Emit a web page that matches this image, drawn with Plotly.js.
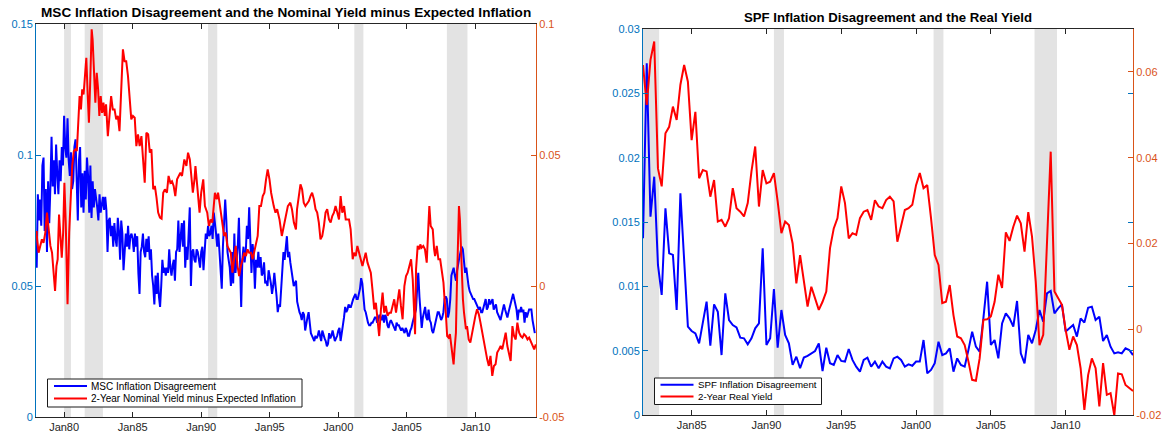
<!DOCTYPE html>
<html>
<head>
<meta charset="utf-8">
<script src="https://cdn.plot.ly/plotly-3.0.1.min.js"></script>
<style>
html,body{margin:0;padding:0;background:#fff;}
#chart{width:1162px;height:432px;}
</style>
</head>
<body>
<div id="chart"></div>
<script>
// ---------- Left panel: MSC inflation disagreement (monthly, from Jan 1978) ----------
const mscStartYear = 1978;
const mscDisagreement = [
.057,.085,.075,.083,.073,.096,.099,.071,.087,.063,
.090,.074,.088,.107,.088,.098,.085,.104,.093,.085,
.098,.090,.103,.096,.115,.103,.099,.114,.098,.092,
.101,.087,.090,.103,.106,.094,.075,.098,.103,.080,
.093,.078,.094,.083,.099,.092,.078,.096,.076,.090,
.080,.087,.084,.080,.075,.085,.078,.082,.084,.079,
.084,.079,.063,.075,.076,.069,.073,.065,.074,.068,
.065,.076,.071,.060,.075,.070,.056,.063,.070,.065,
.073,.064,.069,.070,.068,.063,.070,.065,.069,.055,
.047,.063,.065,.070,.063,.061,.068,.063,.069,.060,
.064,.054,.050,.043,.054,.047,.055,.046,.042,.050,
.060,.055,.057,
.054,.057,.055,.064,.057,.054,.058,
.060,.052,.063,.064,.075,.063,.069,
.074,.065,.075,.057,.065,.060,.068,
.080,.050,.063,.064,.060,.059,.064,
.063,.060,.057,.063,.065,.056,.063,
.070,.068,.073,.069,.070,.073,.068,
.078,.075,.070,.065,.070,.063,.055,
.049,.065,.073,.083,.075,.063,.060,
.057,.050,.063,.051,.070,.055,.061,
.065,.076,.063,.042,.060,.065,.059,
.063,.073,.068,.080,.063,.055,.066,
.061,.049,.060,.057,.063,.057,.061,
.054,.055,.059,.051,.052,.050,.056,
.054,.051,.047,.050,.055,.051,.046,
.040,.043,.042,.050,.059,.063,.060,
.065,.069,.061,.063,.059,.056,.053,
.050,.051,.052,
.044,.041,.040,.039,.037,.040,.039,.033,.036,.038,
.040,.036,.032,.031,.030,.029,.031,.030,.031,.033,
.031,.029,.033,.031,.030,.029,.027,.028,.032,.030,
.031,.033,.031,.029,.030,.031,.033,.034,.029,.033,
.035,.038,.042,.040,.041,.043,.042,.042,.044,.045,
.046,.047,.045,.045,.047,.049,.053,.051,.046,.041,
.040,.037,.036,.035,.035,.036,.036,.037,.038,.038,
.036,.037,.039,.038,.037,.039,.036,.039,.038,.035,
.034,.036,.037,.036,.035,.034,.033,.036,.035,.035,
.034,.033,.034,.033,.032,.034,.033,.031,.031,.033,
.034,.036,.038,.039,.041,.049,.055,.046,
.040,.034,.038,.040,.042,.038,.037,.041,.037,.036,
.033,.032,.034,.035,.037,.040,.040,.038,.037,.038,
.040,.045,.046,.045,.038,.040,.045,.054,.056,.057,
.054,.052,.056,.059,.061,.063,.065,.064,.059,.055,
.057,.053,.050,.048,.047,.046,.045,.045,.044,.043,
.042,.041,.042,.040,.040,.042,.044,.045,.041,.042,
.045,.043,.044,.045,.041,.042,.043,.040,.039,.038,
.037,.039,.041,.043,.041,.039,.038,.040,.042,.043,
.045,.047,.045,.043,.041,.037,.041,.040,.042,.040,
.041,.036,.040,.038,.040,.041,.041,.041,.037,.034,
.032
];

// ---------- Left panel: 2-year nominal yield minus expected inflation ----------
const nomDates = [
1978.00,1978.01,1978.14,1978.26,1978.38,1978.50,1978.63,1978.75,1978.87,1979.00,
1979.12,1979.24,1979.34,1979.44,1979.53,1979.63,1979.73,1979.83,1979.93,1980.02,
1980.12,1980.25,1980.37,1980.47,1980.59,1980.71,1980.83,1980.93,1981.03,1981.13,
1981.23,1981.32,1981.42,1981.52,1981.62,1981.72,1981.81,1981.91,1982.01,1982.08,
1982.18,1982.28,1982.38,1982.48,1982.57,1982.67,1982.77,1982.87,1982.97,1983.06,
1983.19,1983.31,1983.43,1983.55,1983.68,1983.80,1983.92,1984.04,1984.17,1984.29,
1984.41,1984.53,1984.66,1984.78,1984.90,1985.02,1985.15,1985.27,1985.39,1985.51,
1985.64,1985.76,1985.88,1986.00,1986.13,1986.25,1986.37,1986.50,1986.62,1986.74,
1986.86,1986.99,1987.11,1987.23,1987.35,
1987.50,1987.62,1987.75,1987.87,1987.99,1988.11,1988.24,1988.36,1988.48,1988.60,
1988.77,1988.92,1989.04,1989.17,1989.26,1989.39,1989.51,1989.58,1989.71,1989.88,
1990.00,1990.15,1990.27,1990.44,1990.56,1990.69,1990.81,1991.00,1991.13,1991.23,
1991.37,1991.50,1991.67,1991.79,1991.91,1992.03,1992.16,1992.28,1992.40,1992.52,
1992.65,1992.77,1992.89,1993.01,1993.14,1993.26,1993.38,1993.50,1993.63,1993.75,
1993.92,1994.12,1994.24,1994.36,1994.49,1994.61,1994.73,1994.85,1994.98,1995.10,
1995.29,1995.42,1995.54,1995.71,1995.88,1996.03,1996.20,1996.32,1996.50,1996.62,
1996.76,1996.91,
1996.99,1997.11,1997.24,1997.36,1997.48,1997.60,1997.73,1997.85,1997.97,1998.09,
1998.22,1998.34,1998.46,1998.58,1998.70,1998.83,1998.95,1999.07,1999.19,1999.32,
1999.44,1999.56,1999.68,1999.80,1999.93,2000.05,2000.17,2000.29,2000.42,2000.54,
2000.66,2000.78,2000.90,2000.98,2001.05,2001.15,2001.27,2001.39,2001.52,2001.64,
2001.76,2001.88,2002.00,2002.13,2002.25,2002.37,2002.49,2002.62,2002.74,2002.86,
2002.98,2003.11,2003.23,2003.35,2003.47,2003.59,2003.72,2003.84,2003.96,2004.08,
2004.21,2004.33,2004.45,2004.57,2004.69,2004.82,2004.94,2005.06,2005.18,2005.31,
2005.43,2005.50,2005.60,2005.67,2005.79,2005.92,
2005.98,2006.08,2006.20,2006.32,2006.45,2006.57,2006.64,2006.74,2006.81,2006.89,
2006.99,2007.06,2007.18,2007.30,2007.43,2007.55,2007.67,2007.75,2007.84,2007.94,
2008.04,2008.14,2008.24,2008.33,2008.41,2008.48,2008.58,2008.65,2008.73,2008.80,
2008.87,2008.95,2009.02,2009.09,2009.17,2009.24,2009.31,2009.39,2009.51,2009.63,
2009.75,2009.88,2010.00,2010.12,2010.25,2010.37,2010.49,2010.61,2010.74,2010.86,
2010.98,2011.10,2011.23,2011.35,2011.47,2011.59,2011.72,2011.84,2011.96,2012.08,
2012.21,2012.33,2012.45,2012.57,2012.70,2012.82,2012.94,2013.06,2013.19,2013.31,
2013.43,2013.55,2013.68,2013.80,2013.92,2014.04,2014.17,2014.29,2014.41
];
const nomYieldMinusExpInfl = [
.0210,.0190,.0127,.0153,.0178,.0165,.0204,.0280,.0229,.0153,
.0127,.0051,-.0019,.0076,.0102,.0273,.0204,.0108,.0204,.0394,
.0242,-.0070,.0204,.0343,.0458,.0515,.0522,.0515,.0611,.0725,
.0674,.0751,.0731,.0801,.0871,.0731,.0623,.0788,.0980,.0941,
.0827,.0700,.0814,.0751,.0649,.0725,.0661,.0700,.0649,.0693,
.0572,.0636,.0725,.0674,.0674,.0636,.0649,.0591,.0763,.0903,
.0858,.0858,.0801,.0712,.0636,.0649,.0642,.0534,.0579,.0534,
.0572,.0483,.0394,.0585,.0579,.0509,.0522,.0369,.0382,.0337,
.0280,.0261,.0257,.0356,.0369,
.0356,.0420,.0394,.0400,.0382,.0343,.0407,.0420,.0432,.0420,
.0483,.0458,.0509,.0483,.0432,.0356,.0407,.0458,.0382,.0280,
.0356,.0407,.0305,.0280,.0229,.0254,.0242,.0356,.0331,.0356,
.0305,.0254,.0191,.0204,.0153,.0140,.0127,.0051,.0102,.0153,
.0076,.0038,.0076,.0102,.0127,.0114,.0140,.0127,.0127,.0102,
.0140,.0191,.0305,.0305,.0343,.0356,.0407,.0445,.0407,.0356,
.0305,.0280,.0293,.0254,.0191,.0229,.0280,.0305,.0318,.0293,
.0242,.0216,
.0293,.0343,.0388,.0369,.0318,.0305,.0318,.0324,.0343,.0356,
.0331,.0293,.0280,.0242,.0178,.0191,.0229,.0280,.0293,.0254,
.0242,.0267,.0280,.0305,.0280,.0254,.0343,.0280,.0305,.0254,
.0254,.0254,.0216,.0127,.0102,.0127,.0114,.0153,.0127,.0102,
.0076,.0102,.0127,.0089,.0070,.0051,-.0013,-.0089,-.0064,-.0127,
-.0191,-.0089,-.0025,-.0102,-.0076,-.0114,-.0102,-.0102,-.0076,-.0051,
-.0102,-.0064,-.0013,-.0076,-.0127,.0000,.0038,.0051,.0076,.0102,
.0025,-.0064,-.0184,.0064,.0153,.0140,
.0159,.0146,.0153,.0140,.0089,.0229,.0305,.0229,.0223,.0216,
.0140,.0114,.0153,.0102,.0102,.0051,.0013,-.0051,-.0102,-.0191,
-.0197,-.0184,-.0229,-.0267,-.0299,-.0242,-.0178,.0000,.0229,.0305,
.0254,.0127,.0025,-.0051,-.0102,-.0127,-.0165,-.0153,-.0204,-.0216,
-.0178,-.0140,-.0114,-.0089,-.0108,-.0140,-.0178,-.0204,-.0254,-.0280,
-.0305,-.0267,-.0343,-.0305,-.0299,-.0254,-.0242,-.0229,-.0242,-.0204,
-.0178,-.0229,-.0254,-.0286,-.0153,-.0191,-.0204,-.0140,-.0178,-.0191,
-.0197,-.0184,-.0191,-.0204,-.0197,-.0210,-.0223,-.0242,-.0223
];

// ---------- Right panel: SPF inflation disagreement & 2-year real yield (quarterly, from 1981Q4) ----------
const spfStartYear = 1981.75;
const spfDisagreement = [
.01373,.02733,.01541,.01852,.01166,.00933,.01606,.01256,.01244,.00816,
.01723,.01166,.00687,.00653,.00635,.00557,.00725,.00881,.00539,.00860,
.00803,.00466,.00946,.00738,.00699,.00681,.00601,.00596,.00549,.00596,
.00674,.00712,.01295,.00544,.00596,.00979,.00523,.00816,.00622,.00557,
.00389,.00453,.00363,.00446,.00459,.00479,.00497,.00557,.00342,.00523,
.00402,.00389,.00466,.00420,.00415,.00513,.00428,.00376,.00337,.00428,
.00446,.00376,.00415,.00363,.00415,.00376,
.00363,.00440,.00453,.00428,.00376,.00394,.00383,.00415,.00415,.00583,
.00324,.00350,.00402,.00570,.00466,.00479,.00518,.00337,.00440,.00389,
.00376,.00505,.00648,.00531,.00492,.00751,.01036,.00544,.00583,.00440,
.00712,.00790,.00751,.00687,.00886,.00479,.00402,.00622,.00557,.00661,
.00816,.00725,.00946,.00964,.00790,.00829,.00860,.00648,.00674,.00699,
.00609,.00751,.00718,.00834,.00842,.00738,.00764,.00575,.00622,.00531,
.00479,.00487,.00479,.00518,.00505,.00466
];
const realYield = [
.0616,.0523,.0628,.0671,.0375,.0333,.0457,.0472,.0519,.0488,
.0570,.0616,.0577,.0441,.0507,.0352,.0371,.0368,.0309,.0348,
.0251,.0255,.0239,.0259,.0329,.0282,.0274,.0263,.0294,.0368,
.0426,.0286,.0371,.0340,.0344,.0364,.0298,.0224,.0251,.0243,
.0200,.0107,.0173,.0111,.0053,.0099,.0072,.0045,.0064,.0088,
.0189,.0235,.0259,.0333,.0294,.0212,.0224,.0220,.0259,.0274,
.0278,.0255,.0301,.0286,.0282,.0301,
.0309,.0298,.0204,.0243,.0278,.0282,.0290,.0336,.0364,.0329,
.0336,.0259,.0173,.0150,.0061,.0064,.0103,.0033,-.0017,-.0021,
-.0037,-.0075,-.0118,-.0120,-.0068,.0022,.0023,.0030,.0064,.0127,
.0096,.0226,.0206,.0239,.0265,.0247,.0181,.0273,.0216,.0111,
-.0037,-.0013,.0204,.0414,.0088,.0072,.0057,-.0002,-.0048,-.0017,
-.0037,-.0091,-.0188,-.0107,-.0068,-.0091,-.0180,-.0079,-.0153,-.0149,
-.0201,-.0103,-.0105,-.0130,-.0138,-.0144
];

// ---------- NBER recessions ----------
const recessionStart = [1980.0, 1981.5, 1990.5, 2001.17, 2007.92];
const recessionEnd   = [1980.5, 1982.83, 1991.17, 2001.83, 2009.42];

// ---------- Tick labels and legend text ----------
const leftTickYears = [1980,1985,1990,1995,2000,2005,2010];
const leftTickText  = ['Jan80','Jan85','Jan90','Jan95','Jan00','Jan05','Jan10'];
const rightTickYears = [1985,1990,1995,2000,2005,2010];
const rightTickText  = ['Jan85','Jan90','Jan95','Jan00','Jan05','Jan10'];
const mscTicks = [0,0.05,0.1,0.15], mscTickText = ['0','0.05','0.1','0.15'];
const nomTicks = [-0.05,0,0.05,0.1], nomTickText = ['-0.05','0','0.05','0.1'];
const spfTicks = [0,0.005,0.01,0.015,0.02,0.025,0.03], spfTickText = ['0','0.005','0.01','0.015','0.02','0.025','0.03'];
const ryTicks = [-0.02,0,0.02,0.04,0.06], ryTickText = ['-0.02','0','0.02','0.04','0.06'];
const leftSeriesNames  = ['MSC Inflation Disagreement', '2-Year Nominal Yield minus Expected Inflation'];
const rightSeriesNames = ['SPF Inflation Disagreement', '2-Year Real Yield'];
const leftTitle  = 'MSC Inflation Disagreement and the Nominal Yield minus Expected Inflation';
const rightTitle = 'SPF Inflation Disagreement and the Real Yield';

const mscDates = mscDisagreement.map((_, i) => mscStartYear + i / 12);
const spfDates = spfDisagreement.map((_, i) => spfStartYear + i / 4);

const W = 1162, H = 432;
const BLUEAX = '#0072BD', ORANGEAX = '#D95319', DARK = '#262626';
const LINEBLUE = '#0000FF', LINERED = '#FF0000';
const FONT = 'Liberation Sans, Arial, Helvetica, sans-serif';

const traces = [
  {x: mscDates, y: mscDisagreement, xaxis:'x', yaxis:'y', type:'scatter', mode:'lines',
   name: leftSeriesNames[0], line:{color:LINEBLUE, width:2}},
  {x: nomDates, y: nomYieldMinusExpInfl, xaxis:'x', yaxis:'y2', type:'scatter', mode:'lines',
   name: leftSeriesNames[1], line:{color:LINERED, width:2}},
  {x: spfDates, y: spfDisagreement, xaxis:'x2', yaxis:'y3', type:'scatter', mode:'lines',
   name: rightSeriesNames[0], line:{color:LINEBLUE, width:2}},
  {x: spfDates, y: realYield, xaxis:'x2', yaxis:'y4', type:'scatter', mode:'lines',
   name: rightSeriesNames[1], line:{color:LINERED, width:2}}
];

const shapes = [];
recessionStart.forEach((s, i) => {
  shapes.push({type:'rect', xref:'x', yref:'y domain', x0:s, x1:recessionEnd[i], y0:0, y1:1,
    fillcolor:'#e3e3e3', line:{width:0}, layer:'below'});
  shapes.push({type:'rect', xref:'x2', yref:'y3 domain', x0:s, x1:recessionEnd[i], y0:0, y1:1,
    fillcolor:'#e3e3e3', line:{width:0}, layer:'below'});
});

const annotations = [
  {text:'<b>' + leftTitle + '</b>', xref:'paper', yref:'paper', x:(36+536)/2/W, y:1-13/H,
   xanchor:'center', yanchor:'middle', showarrow:false, font:{family:FONT, size:13.6, color:'#000'}},
  {text:'<b>' + rightTitle + '</b>', xref:'paper', yref:'paper', x:(643+1133)/2/W, y:1-18/H,
   xanchor:'center', yanchor:'middle', showarrow:false, font:{family:FONT, size:13.2, color:'#000'}}
];

// Legend boxes (drawn in paper space, styled like the original figure's legends)
function addLegend(box, names, colors, fsize) {
  const px = v => v / W, py = v => 1 - v / H;
  shapes.push({type:'rect', xref:'paper', yref:'paper', x0:px(box.x0), x1:px(box.x1), y0:py(box.y1), y1:py(box.y0),
    fillcolor:'#ffffff', line:{color:'#1a1a1a', width:1}, layer:'above'});
  names.forEach((n, i) => {
    const yy = box.rows[i];
    shapes.push({type:'line', xref:'paper', yref:'paper', x0:px(box.l0), x1:px(box.l1), y0:py(yy), y1:py(yy),
      line:{color:colors[i], width:2}, layer:'above'});
    annotations.push({text:n, xref:'paper', yref:'paper', x:px(box.tx), y:py(yy), xanchor:'left', yanchor:'middle',
      showarrow:false, font:{family:FONT, size:fsize, color:'#000'}});
  });
}
addLegend({x0:47.5, x1:302, y0:379, y1:407, l0:54, l1:87, tx:89, rows:[386, 398.5]}, leftSeriesNames, [LINEBLUE, LINERED], 10);
addLegend({x0:654.5, x1:821.5, y0:378, y1:404.5, l0:660.5, l1:693.5, tx:695.5, rows:[384.8, 396.5]}, rightSeriesNames, [LINEBLUE, LINERED], 9.7);

function xAxis(domain, range, vals, text, anchor) {
  return {domain, range, anchor, tickvals: vals, ticktext: text, ticks:'inside', ticklen:5,
    tickcolor: DARK, showline:true, linecolor: DARK, linewidth:1, mirror:'ticks',
    showgrid:false, zeroline:false, tickfont:{family:FONT, size:11, color:DARK}, fixedrange:true};
}
function yAxis(domain, range, vals, text, anchor, color, extra) {
  return Object.assign({domain, range, anchor, tickvals: vals, ticktext: text, ticks:'inside', ticklen:5,
    tickcolor: color, showline:true, linecolor: color, linewidth:1,
    showgrid:false, zeroline:false, tickfont:{family:FONT, size:11, color:color}, fixedrange:true}, extra || {});
}

const lx0 = 36/W, lx1 = 536/W, ly0 = 1-417/H, ly1 = 1-24/H;
const rx0 = 643/W, rx1 = 1133/W, ry0 = 1-415/H, ry1 = 1-29/H;

const layout = {
  width: W, height: H,
  margin: {l:0, r:0, t:0, b:0, pad:0},
  paper_bgcolor:'#ffffff', plot_bgcolor:'rgba(0,0,0,0)',
  font: {family: FONT, size: 11, color: DARK},
  showlegend: false,
  xaxis: xAxis([lx0, lx1], [1977.95, 2014.42], leftTickYears, leftTickText, 'y'),
  yaxis: yAxis([ly0, ly1], [0, 0.15], mscTicks, mscTickText, 'x', BLUEAX, {mirror:'ticks'}),
  yaxis2: yAxis([ly0, ly1], [-0.05, 0.1], nomTicks, nomTickText, 'x', ORANGEAX, {overlaying:'y', side:'right'}),
  xaxis2: xAxis([rx0, rx1], [1981.75, 2014.5], rightTickYears, rightTickText, 'y3'),
  yaxis3: yAxis([ry0, ry1], [0, 0.03], spfTicks, spfTickText, 'x2', BLUEAX, {mirror:'ticks'}),
  yaxis4: yAxis([ry0, ry1], [-0.02, 0.07], ryTicks, ryTickText, 'x2', ORANGEAX, {overlaying:'y3', side:'right'}),
  shapes: shapes,
  annotations: annotations
};

Plotly.newPlot('chart', traces, layout, {displayModeBar:false, staticPlot:true});
</script>
</body>
</html>
